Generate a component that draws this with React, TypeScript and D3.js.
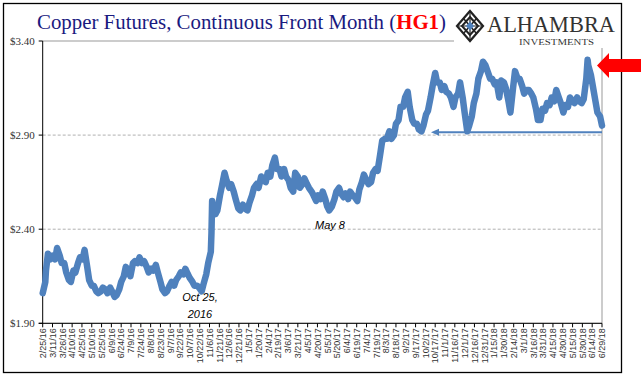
import React from "react";
import * as d3 from "d3";

const obsDates: string[] = [
  "2/25/16","2/29/16","3/1/16","3/4/16","3/8/16","3/11/16","3/15/16","3/18/16","3/22/16","3/25/16",
  "3/29/16","4/1/16","4/5/16","4/8/16","4/12/16","4/15/16","4/19/16","4/22/16","4/26/16","4/29/16",
  "5/3/16","5/6/16","5/10/16","5/13/16","5/17/16","5/20/16","5/24/16","5/27/16","5/31/16","6/3/16",
  "6/7/16","6/10/16","6/14/16","6/17/16","6/21/16","6/24/16","6/28/16","7/1/16","7/5/16","7/8/16",
  "7/12/16","7/15/16","7/19/16","7/22/16","7/26/16","7/29/16","8/2/16","8/5/16","8/9/16","8/12/16",
  "8/16/16","8/19/16","8/23/16","8/26/16","8/30/16","9/2/16","9/6/16","9/9/16","9/13/16","9/16/16",
  "9/20/16","9/23/16","9/27/16","9/30/16","10/4/16","10/7/16","10/11/16","10/14/16","10/18/16","10/21/16",
  "10/25/16","10/28/16","11/1/16","11/4/16","11/8/16","11/9/16","11/10/16","11/11/16","11/15/16","11/18/16",
  "11/22/16","11/25/16","11/29/16","12/2/16","12/6/16","12/9/16","12/13/16","12/16/16","12/20/16","12/23/16",
  "12/27/16","12/30/16",
  "1/3/17","1/6/17","1/10/17","1/13/17","1/17/17","1/20/17","1/24/17","1/27/17","1/31/17","2/3/17",
  "2/7/17","2/10/17","2/14/17","2/17/17","2/21/17","2/24/17","2/28/17","3/3/17","3/7/17","3/10/17",
  "3/14/17","3/17/17","3/21/17","3/24/17","3/28/17","3/31/17","4/4/17","4/7/17","4/11/17","4/14/17",
  "4/18/17","4/21/17","4/25/17","4/28/17","5/2/17","5/5/17","5/8/17","5/12/17","5/16/17","5/19/17",
  "5/23/17","5/26/17","5/30/17","6/2/17","6/6/17","6/9/17","6/13/17","6/16/17","6/20/17","6/23/17",
  "6/27/17","6/30/17","7/4/17","7/7/17","7/11/17","7/14/17","7/18/17","7/21/17","7/25/17","7/28/17",
  "8/1/17","8/4/17","8/8/17","8/11/17","8/15/17","8/18/17","8/22/17","8/25/17","8/29/17","9/1/17",
  "9/5/17","9/8/17","9/12/17","9/15/17","9/19/17","9/22/17","9/26/17","9/29/17","10/3/17","10/6/17",
  "10/10/17","10/13/17","10/17/17","10/20/17","10/24/17","10/27/17","10/31/17","11/3/17","11/7/17","11/10/17",
  "11/14/17","11/17/17","11/21/17","11/24/17","11/28/17","12/1/17","12/5/17","12/8/17","12/12/17","12/15/17",
  "12/19/17","12/22/17","12/26/17","12/29/17",
  "1/2/18","1/5/18","1/9/18","1/12/18","1/16/18","1/19/18","1/23/18","1/26/18","1/30/18","2/2/18",
  "2/6/18","2/9/18","2/13/18","2/16/18","2/20/18","2/23/18","2/27/18","3/2/18","3/6/18","3/9/18",
  "3/13/18","3/16/18","3/20/18","3/23/18","3/27/18","3/30/18","4/3/18","4/6/18","4/10/18","4/13/18",
  "4/17/18","4/20/18","4/24/18","4/27/18","5/1/18","5/4/18","5/8/18","5/11/18","5/15/18","5/18/18",
  "5/22/18","5/25/18","5/29/18","6/1/18","6/5/18","6/7/18","6/8/18","6/12/18","6/15/18","6/19/18",
  "6/22/18","6/26/18","6/29/18"
];

const copperValues: number[] = [
  2.06,2.12,2.18,2.27,2.24,2.26,2.24,2.30,2.26,2.22,
  2.22,2.17,2.13,2.12,2.18,2.17,2.22,2.25,2.24,2.29,
  2.20,2.13,2.10,2.10,2.07,2.06,2.07,2.09,2.08,2.06,
  2.09,2.07,2.04,2.05,2.08,2.12,2.15,2.20,2.18,2.15,
  2.22,2.23,2.22,2.25,2.22,2.23,2.20,2.17,2.19,2.18,
  2.21,2.17,2.12,2.08,2.06,2.07,2.10,2.12,2.10,2.13,
  2.15,2.17,2.16,2.19,2.16,2.14,2.12,2.10,2.10,2.09,
  2.07,2.11,2.16,2.22,2.28,2.38,2.55,2.50,2.48,2.50,
  2.58,2.63,2.70,2.66,2.62,2.64,2.60,2.56,2.51,2.50,
  2.53,2.51,
  2.50,2.54,2.58,2.62,2.64,2.62,2.68,2.66,2.65,2.70,
  2.68,2.74,2.78,2.72,2.72,2.68,2.72,2.68,2.66,2.62,
  2.60,2.70,2.68,2.62,2.64,2.67,2.64,2.62,2.60,2.58,
  2.55,2.58,2.56,2.60,2.56,2.52,2.50,2.52,2.56,2.60,
  2.62,2.59,2.57,2.59,2.56,2.60,2.58,2.57,2.55,2.61,
  2.65,2.69,2.66,2.64,2.65,2.70,2.72,2.71,2.80,2.87,
  2.88,2.88,2.92,2.88,2.90,2.96,2.98,3.05,3.05,3.10,
  3.13,3.05,2.98,2.96,2.96,2.93,2.92,2.95,3.01,3.03,
  3.10,3.16,3.23,3.18,3.18,3.14,3.16,3.13,3.12,3.10,
  3.05,3.10,3.12,3.18,3.10,3.02,2.92,2.95,3.00,3.07,
  3.12,3.20,3.24,3.29,
  3.27,3.24,3.20,3.20,3.17,3.18,3.10,3.19,3.18,3.15,
  3.08,3.02,3.15,3.24,3.20,3.20,3.16,3.12,3.14,3.14,
  3.12,3.10,3.04,2.98,2.98,3.04,3.03,3.07,3.06,3.10,
  3.08,3.14,3.10,3.07,3.02,3.06,3.05,3.10,3.08,3.07,
  3.10,3.08,3.07,3.09,3.20,3.30,3.27,3.22,3.16,3.08,
  3.02,3.00,2.95
];

const xTickLabels: string[] = [
  "2/25/16","3/11/16","3/26/16","4/10/16","4/25/16","5/10/16","5/25/16","6/9/16","6/24/16","7/9/16",
  "7/24/16","8/8/16","8/23/16","9/7/16","9/22/16","10/7/16","10/22/16","11/6/16","11/21/16","12/6/16",
  "12/21/16","1/5/17","1/20/17","2/4/17","2/19/17","3/6/17","3/21/17","4/5/17","4/20/17","5/5/17",
  "5/20/17","6/4/17","6/19/17","7/4/17","7/19/17","8/3/17","8/18/17","9/2/17","9/17/17","10/2/17",
  "10/17/17","11/1/17","11/16/17","12/1/17","12/16/17","12/31/17","1/15/18","1/30/18","2/14/18","3/1/18",
  "3/16/18","3/31/18","4/15/18","4/30/18","5/15/18","5/30/18","6/14/18","6/29/18"
];

const yTicks: number[] = [1.9, 2.4, 2.9, 3.4];
const supportLevel = 2.915;

const parse = d3.timeParse("%m/%d/%y");

export default function App() {
  const W = 641, H = 388;
  const left = 42.7, right = 602, top = 41, bottom = 323.3;
  const tickDates = xTickLabels.map((s) => parse(s) as Date);
  const x = d3.scaleTime().domain([tickDates[0], tickDates[tickDates.length - 1]]).range([left, right]);
  const y = d3.scaleLinear().domain([1.9, 3.4]).range([bottom, top]);
  const pts = obsDates.map((d, i) => ({ d: parse(d) as Date, v: copperValues[i] }));
  const line = d3.line<{ d: Date; v: number }>().x((p) => x(p.d)).y((p) => y(p.v));
  const fmt = d3.format("$.2f");
  const blue = "#4F81BD";
  const sy = y(supportLevel);

  return (
    <svg width={W} height={H} style={{ position: "absolute", left: 0, top: 0, background: "#fff" }}>
      <rect x={0} y={0} width={W} height={H} fill="#fff" />
      <rect x={3.5} y={3.5} width={618} height={369} fill="none" stroke="#000" strokeWidth={1.3} />
      {yTicks.map((t) => (
        <line key={t} x1={left} x2={right} y1={y(t)} y2={y(t)}
          stroke={t === 3.4 ? "#999" : "#b0b0b0"} strokeWidth={1}
          strokeDasharray={t === 3.4 || t === 1.9 ? undefined : "3,2"} />
      ))}
      <line x1={right} x2={right} y1={top} y2={bottom} stroke="#999" strokeWidth={1} />
      <line x1={left} x2={left} y1={top} y2={bottom} stroke="#000" strokeWidth={1} />
      {yTicks.map((t) => (
        <g key={"yl" + t}>
          <line x1={left - 4} x2={left} y1={y(t)} y2={y(t)} stroke="#000" />
          <text x={left - 8} y={y(t) + 3.5} textAnchor="end" fontFamily="Liberation Serif, serif" fontSize={11} fill="#333">{fmt(t)}</text>
        </g>
      ))}
      <line x1={left - 4} x2={right} y1={bottom} y2={bottom} stroke="#000" strokeWidth={1} />
      {tickDates.map((d, i) => (
        <g key={"xt" + i}>
          <line x1={x(d)} x2={x(d)} y1={bottom} y2={bottom + 4} stroke="#000" />
          <text transform={`translate(${x(d) + 3.3},${bottom + 5}) rotate(-90)`} textAnchor="end"
            fontFamily="Liberation Sans, Arial, sans-serif" fontSize={9} fill="#333">{xTickLabels[i]}</text>
        </g>
      ))}
      <path d={line(pts) || ""} fill="none" stroke={blue} strokeWidth={6.5} strokeLinejoin="round" strokeLinecap="round" />
      <line x1={right} x2={436} y1={sy} y2={sy} stroke={blue} strokeWidth={2} />
      <path d={`M${431},${sy} L${439},${sy - 3.5} L${439},${sy + 3.5} Z`} fill={blue} />
      <text x={200} y={301} textAnchor="middle" fontFamily="Liberation Sans, Arial, sans-serif" fontStyle="italic" fontSize={11} fill="#000">Oct 25,</text>
      <text x={200} y={318} textAnchor="middle" fontFamily="Liberation Sans, Arial, sans-serif" fontStyle="italic" fontSize={11} fill="#000">2016</text>
      <text x={330} y={229} textAnchor="middle" fontFamily="Liberation Sans, Arial, sans-serif" fontStyle="italic" fontSize={11} fill="#000">May 8</text>
      <path d="M597,65.5 L609,53 L609,59 L641,59 L641,72 L609,72 L609,78 Z" fill="#ff0000" />
      <text x={37} y={29} fontFamily="Liberation Serif, serif" fontSize={20} fill="#1a1a80" textLength={409} lengthAdjust="spacingAndGlyphs">
        Copper Futures, Continuous Front Month (<tspan fill="#ff0000" fontWeight="bold">HG1</tspan>)
      </text>
      <rect x={454} y={6} width={166} height={42} fill="#fff" />
      <g transform="translate(470,26)">
        <path d="M0,-15 L13,0 L0,15 L-13,0 Z" fill="none" stroke="#222" strokeWidth={2.2} />
        <path d="M0,-9 L8,0 L0,9 L-8,0 Z" fill="none" stroke="#222" strokeWidth={2} />
        <path d="M-6.5,-7.5 L6.5,7.5 M6.5,-7.5 L-6.5,7.5" stroke="#222" strokeWidth={1.6} />
        <path d="M0,-15 L0,15 M-13,0 L13,0" stroke="#222" strokeWidth={1.2} />
        <path d="M0,-4.5 L4,0 L0,4.5 L-4,0 Z" fill="#4F81BD" />
      </g>
      <text x={487} y={32} fontFamily="Liberation Serif, serif" fontSize={24} fill="#333" textLength={128} lengthAdjust="spacingAndGlyphs">ALHAMBRA</text>
      <text x={519} y={45} fontFamily="Liberation Serif, serif" fontSize={8} fill="#333" textLength={75} lengthAdjust="spacingAndGlyphs">INVESTMENTS</text>
    </svg>
  );
}
